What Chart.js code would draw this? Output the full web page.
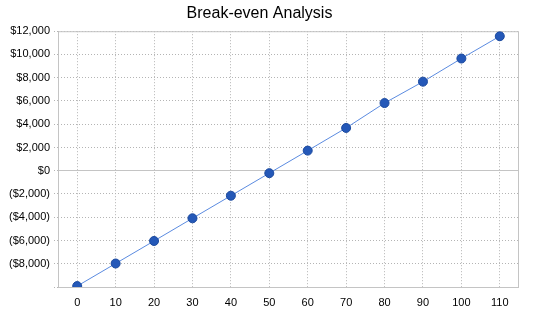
<!DOCTYPE html>
<html>
<head>
<meta charset="utf-8">
<script src="https://cdn.jsdelivr.net/npm/chart.js@4"></script>
<style>
  html, body { margin: 0; padding: 0; background: #fff; }
  #wrap { width: 550px; height: 318px; }
</style>
</head>
<body>
<div id="wrap"><canvas id="chart" width="550" height="318"></canvas></div>
<script>
const units = ['0', '10', '20', '30', '40', '50', '60', '70', '80', '90', '100', '110'];
const profit = [-9920, -7980, -6040, -4090, -2150, -210, 1730, 3680, 5820, 7660, 9650, 11570];
const yMin = -10000;
const yMax = 12000;
const yStep = 2000;

const money = (v) => {
  if (v === yMin) return '';
  const s = '$' + Math.abs(v).toLocaleString('en-US');
  return v < 0 ? '(' + s + ')' : s;
};

// box round the plot area and a solid zero line
const frame = {
  id: 'frame',
  beforeDatasetsDraw(chart) {
    const { ctx, chartArea: a, scales } = chart;
    const y0 = Math.floor(scales.y.getPixelForValue(0)) + 0.5;
    ctx.save();
    ctx.strokeStyle = '#c4c4c4';
    ctx.lineWidth = 1;
    ctx.setLineDash([]);
    ctx.beginPath();
    ctx.moveTo(a.left, y0);
    ctx.lineTo(a.right, y0);
    ctx.stroke();
    ctx.strokeRect(a.left + 0.5, a.top + 0.5, a.right - a.left - 1, a.bottom - a.top);
    ctx.restore();
  }
};

new Chart(document.getElementById('chart'), {
  type: 'line',
  data: {
    labels: units,
    datasets: [{
      data: profit,
      borderColor: '#5b8be0',
      borderWidth: 1,
      pointRadius: 4.5,
      pointHoverRadius: 4.5,
      pointBackgroundColor: '#2458b8',
      pointBorderColor: '#1c4a9e',
      pointBorderWidth: 1,
      tension: 0
    }]
  },
  options: {
    responsive: false,
    animation: false,
    layout: { padding: { left: 0, right: 31, top: 0, bottom: 0 } },
    plugins: {
      legend: { display: false },
      tooltip: { enabled: false },
      title: {
        display: true,
        text: 'Break-even Analysis',
        color: '#000',
        font: { family: 'Liberation Sans, Arial, sans-serif', size: 16, weight: 'normal' },
        padding: { top: 4, bottom: 8 }
      }
    },
    scales: {
      x: {
        offset: true,
        afterFit: (s) => { s.height = 31; },
        grid: { color: '#b4b4b4', offset: false, tickLength: 0, drawTicks: false },
        border: { display: false, dash: [1, 2] },
        ticks: {
          color: '#000',
          padding: 9,
          font: { family: 'Liberation Sans, Arial, sans-serif', size: 11 }
        }
      },
      y: {
        min: yMin,
        max: yMax,
        afterFit: (s) => { s.width = 58; },
        grid: {
          color: (c) => (c.tick && c.tick.value === 0 ? 'rgba(0,0,0,0)' : '#b4b4b4'),
          tickColor: '#b4b4b4',
          drawTicks: true,
          tickLength: 4,
          tickBorderDash: [1, 2]
        },
        border: { display: false, dash: [1, 2] },
        ticks: {
          stepSize: yStep,
          color: '#000',
          padding: 4,
          callback: money,
          font: { family: 'Liberation Sans, Arial, sans-serif', size: 11 }
        }
      }
    }
  },
  plugins: [frame]
});
</script>
</body>
</html>
